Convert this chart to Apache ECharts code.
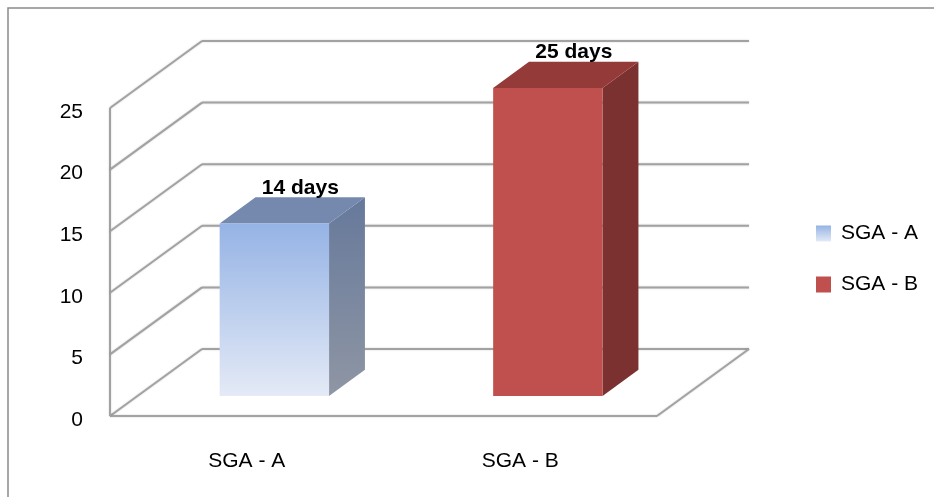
<!DOCTYPE html>
<html>
<head>
<meta charset="utf-8">
<script src="https://cdn.jsdelivr.net/npm/echarts@6/dist/echarts.min.js"></script>
<style>
  html, body { margin: 0; padding: 0; background: #ffffff; }
  #chart { width: 934px; height: 497px; }
</style>
</head>
<body>
<div id="chart"></div>
<script>
// Categories, series and axis ticks
const categories = ['SGA - A', 'SGA - B'];
const seriesNames = ['SGA - A', 'SGA - B'];
const daysA = [14, null];
const daysB = [null, 25];
const yTicks = [0, 5, 10, 15, 20, 25];

// Oblique projection of the depth axis (pixels for full depth)
const DEPTH_X = 92;
const DEPTH_Y = -67;
// Bars sit between these depth fractions and take this share of a category
const BAR_FRONT = 0.30;
const BAR_BACK = 0.69;
const BAR_WIDTH = 0.40;

const FONT = '"Liberation Sans", Arial, sans-serif';
const GRID_COLOR = '#a2a2a2';

const grad = (top, bottom) => new echarts.graphic.LinearGradient(0, 0, 0, 1, [
  { offset: 0, color: top }, { offset: 1, color: bottom }
]);

const faces = {
  'SGA - A': {
    front: () => grad('#95b3e5', '#e4eaf6'),
    top: () => '#7589ae',
    side: () => grad('#66799b', '#8f96a4')
  },
  'SGA - B': {
    front: () => '#c0504d',
    top: () => '#943b39',
    side: () => '#7b3130'
  }
};

function seg(x1, y1, x2, y2) {
  return {
    type: 'line',
    shape: { x1, y1, x2, y2 },
    style: { stroke: GRID_COLOR, lineWidth: 2, shadowBlur: 2, shadowColor: 'rgba(0,0,0,0.18)' }
  };
}

// Walls and floor of the 3D frame, one group per value tick
function frameItem(params, api) {
  const cs = params.coordSys;
  const v = api.value(1);
  const y = api.coord([0, v])[1];
  const left = cs.x;
  const right = cs.x + cs.width;
  const children = [
    seg(left, y, left + DEPTH_X, y + DEPTH_Y),
    seg(left + DEPTH_X, y + DEPTH_Y, right + DEPTH_X, y + DEPTH_Y)
  ];
  if (v === yTicks[0]) {
    const yTop = api.coord([0, yTicks[yTicks.length - 1]])[1];
    children.push(seg(left, y, right, y));
    children.push(seg(right, y, right + DEPTH_X, y + DEPTH_Y));
    children.push(seg(left, y, left, yTop));
  }
  return { type: 'group', children };
}

// A prism bar: front face, top face, right side face and a value label
function barItem(params, api) {
  const idx = api.value(0);
  const v = api.value(1);
  const f = faces[params.seriesName];
  const base = api.coord([idx, 0]);
  const top = api.coord([idx, v]);
  const w = api.size([1, 0])[0] * BAR_WIDTH;
  const fx = DEPTH_X * BAR_FRONT, fy = DEPTH_Y * BAR_FRONT;
  const bx = DEPTH_X * BAR_BACK, by = DEPTH_Y * BAR_BACK;
  const xl = base[0] - w / 2 + fx;
  const xr = base[0] + w / 2 + fx;
  const y0 = base[1] + fy;
  const y1 = top[1] + fy;
  const dx = bx - fx, dy = by - fy;
  return {
    type: 'group',
    children: [
      {
        type: 'polygon',
        shape: { points: [[xr, y1], [xr + dx, y1 + dy], [xr + dx, y0 + dy], [xr, y0]] },
        style: { fill: f.side() }
      },
      {
        type: 'polygon',
        shape: { points: [[xl, y1], [xr, y1], [xr + dx, y1 + dy], [xl + dx, y1 + dy]] },
        style: { fill: f.top() }
      },
      {
        type: 'rect',
        shape: { x: xl, y: y1, width: xr - xl, height: y0 - y1 },
        style: { fill: f.front() }
      },
      {
        type: 'text',
        style: {
          text: v + ' days',
          x: (xl + xr) / 2 + 26,
          y: y1 + dy + 1,
          align: 'center',
          verticalAlign: 'bottom',
          fill: '#000000',
          font: 'bold 21px ' + FONT
        }
      }
    ]
  };
}

function toPoints(values) {
  return values.map((v, i) => [i, v]).filter(d => d[1] != null);
}

const chart = echarts.init(document.getElementById('chart'), null, { renderer: 'canvas' });

chart.setOption({
  animation: false,
  backgroundColor: '#ffffff',
  textStyle: { fontFamily: FONT },
  grid: { left: 110, right: 277, top: 108, bottom: 81 },
  xAxis: {
    type: 'category',
    data: categories,
    axisLine: { show: false },
    axisTick: { show: false },
    splitLine: { show: false },
    axisLabel: { color: '#000000', fontSize: 21, margin: 35, fontFamily: FONT }
  },
  yAxis: {
    type: 'value',
    min: yTicks[0],
    max: yTicks[yTicks.length - 1],
    interval: 5,
    axisLine: { show: false },
    axisTick: { show: false },
    splitLine: { show: false },
    axisLabel: {
      color: '#000000', fontSize: 21, margin: 27, fontFamily: FONT,
      verticalAlign: 'top', lineHeight: 8
    }
  },
  legend: {
    data: seriesNames,
    orient: 'vertical',
    left: 816,
    top: 223,
    padding: 0,
    icon: 'rect',
    itemWidth: 15,
    itemHeight: 16,
    itemGap: 30,
    textStyle: { color: '#000000', fontSize: 21, fontFamily: FONT, lineHeight: 16, padding: [0, 0, 0, 5] }
  },
  graphic: [
    {
      type: 'rect',
      shape: { x: 8, y: 8, width: 940, height: 500 },
      style: { fill: 'none', stroke: '#8a8a8a', lineWidth: 1.5 },
      silent: true
    }
  ],
  series: [
    {
      type: 'custom',
      name: 'frame',
      data: yTicks.map(v => [0, v]),
      encode: { x: 0, y: 1 },
      renderItem: frameItem,
      clip: false,
      silent: true,
      z: 1
    },
    {
      type: 'custom',
      name: seriesNames[0],
      data: toPoints(daysA),
      encode: { x: 0, y: 1 },
      renderItem: barItem,
      itemStyle: { color: grad('#95b3e5', '#e4eaf6') },
      clip: false,
      z: 2
    },
    {
      type: 'custom',
      name: seriesNames[1],
      data: toPoints(daysB),
      encode: { x: 0, y: 1 },
      renderItem: barItem,
      itemStyle: { color: '#c0504d' },
      clip: false,
      z: 2
    }
  ]
});
</script>
</body>
</html>
